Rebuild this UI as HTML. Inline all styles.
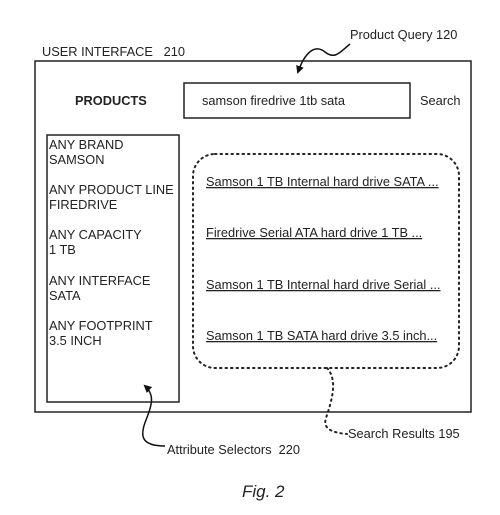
<!DOCTYPE html>
<html><head><style>
body{margin:0;width:500px;height:515px;background:#fff;overflow:hidden}
svg{display:block}
text{font-family:"Liberation Sans",Arial,sans-serif;fill:#222;font-size:12.8px;white-space:pre}
</style></head><body>
<svg width="500" height="515" viewBox="0 0 500 515">
<defs><marker id="ah" markerWidth="8" markerHeight="8" refX="6" refY="4" orient="auto" markerUnits="userSpaceOnUse"><path d="M0,0 L8,4 L0,8 z" fill="#111"/></marker></defs>
<rect x="35" y="61" width="436" height="351" fill="none" stroke="#222" stroke-width="1.5"/>
<text x="42" y="56">USER INTERFACE   210</text>
<text x="350" y="39">Product Query 120</text>
<path d="M350,44 C340,52 335,60 325,52 C315,44 305,52 298,72" fill="none" stroke="#111" stroke-width="1.5" marker-end="url(#ah)"/>
<text x="75" y="105" style="font-weight:bold">PRODUCTS</text>
<rect x="184" y="83" width="226" height="35" fill="none" stroke="#222" stroke-width="1.5"/>
<text x="202" y="105">samson firedrive 1tb sata</text>
<text x="420" y="105">Search</text>
<rect x="47" y="135" width="132" height="267" fill="none" stroke="#222" stroke-width="1.5"/>
<text x="49" y="149">ANY BRAND</text><text x="49" y="164">SAMSON</text>
<text x="49" y="194">ANY PRODUCT LINE</text><text x="49" y="209">FIREDRIVE</text>
<text x="49" y="239">ANY CAPACITY</text><text x="49" y="254">1 TB</text>
<text x="49" y="285">ANY INTERFACE</text><text x="49" y="300">SATA</text>
<text x="49" y="330">ANY FOOTPRINT</text><text x="49" y="345">3.5 INCH</text>
<rect x="193" y="154" width="266" height="214" rx="22" fill="none" stroke="#222" stroke-width="2" stroke-dasharray="1.5,4" stroke-linecap="round"/>
<text x="206" y="186" text-decoration="underline">Samson 1 TB Internal hard drive SATA ...</text>
<text x="206" y="237" text-decoration="underline">Firedrive Serial ATA hard drive 1 TB ...</text>
<text x="206" y="289" text-decoration="underline">Samson 1 TB Internal hard drive Serial ...</text>
<text x="206" y="340" text-decoration="underline">Samson 1 TB SATA hard drive 3.5 inch...</text>
<path d="M327,368 C338,380 332,400 326,418 C322,430 335,433 347,434" fill="none" stroke="#222" stroke-width="2" stroke-dasharray="1.5,4" stroke-linecap="round"/>
<text x="348" y="438">Search Results 195</text>
<path d="M165,446 C140,446 140,435 146,420 C152,405 155,395 145,386" fill="none" stroke="#111" stroke-width="1.5" marker-end="url(#ah)"/>
<text x="167" y="454">Attribute Selectors  220</text>
<text x="242" y="497" style="font-size:17px;font-style:italic">Fig. 2</text>
</svg>
</body></html>
